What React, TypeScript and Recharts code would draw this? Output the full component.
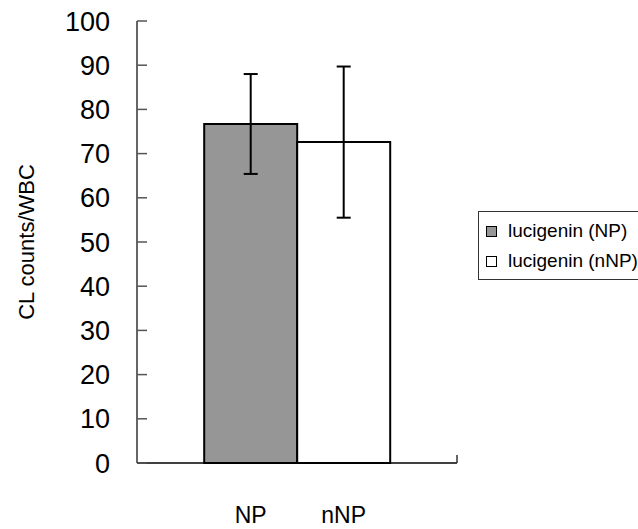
import React from "react";
import {
  BarChart,
  Bar,
  XAxis,
  YAxis,
  ErrorBar,
  Legend,
  LabelList,
} from "recharts";

const groups = ["NP", "nNP"];
const seriesNames = ["lucigenin (NP)", "lucigenin (nNP)"];
const means = [76.7, 72.6];
const errors = [11.3, 17.1];
const fills = ["#969696", "#ffffff"];
const yTicks = [0, 10, 20, 30, 40, 50, 60, 70, 80, 90, 100];

const keys = groups.map((g) => g.toLowerCase());
const row: Record<string, number | string> = { cat: "" };
keys.forEach((k, i) => {
  row[k] = means[i];
  row[k + "Err"] = errors[i];
});
const data = [row];

const FONT = '"Liberation Sans", Arial, sans-serif';

// excel-style tick only at the right end of the category axis, pointing up
const EndTick = (props: any) => {
  const { x, y, payload, width } = props;
  const off = (payload && payload.offset) || width / 2;
  return (
    <line x1={x + off} y1={y} x2={x + off} y2={y - 8} stroke="#333" strokeWidth={1.5} />
  );
};

const groupLabel = (text: string) => (props: any) => {
  const vb = props.viewBox || props;
  const x = props.x ?? vb.x;
  const y = props.y ?? vb.y;
  const w = props.width ?? vb.width;
  const h = props.height ?? vb.height;
  return (
    <text x={x + w / 2} y={y + h + 60} textAnchor="middle" fontSize={23} fill="#000">
      {text}
    </text>
  );
};

const renderLegend = (props: any) => {
  const { payload = [] } = props;
  return (
    <div
      style={{
        border: "1px solid #333",
        background: "#fff",
        padding: "4px 20px 3px 7px",
        fontFamily: FONT,
        fontSize: 19,
        color: "#000",
        whiteSpace: "nowrap",
      }}
    >
      {payload.map((entry: any) => (
        <div key={entry.value} style={{ display: "flex", alignItems: "center", height: 30 }}>
          <span
            style={{
              display: "inline-block",
              width: 9,
              height: 9,
              border: "1.5px solid #000",
              background: entry.color,
              marginRight: 11,
            }}
          />
          <span>{entry.value}</span>
        </div>
      ))}
    </div>
  );
};

export default function App() {
  return (
    <div
      style={{
        position: "absolute",
        left: 0,
        top: 0,
        width: 638,
        height: 529,
        overflow: "hidden",
        background: "#fff",
        fontFamily: FONT,
      }}
    >
      <BarChart
        width={638}
        height={529}
        data={data}
        margin={{ top: 21, right: 181, left: 0, bottom: 36 }}
        barCategoryGap="21%"
        barGap={0}
      >
        <XAxis
          dataKey="cat"
          height={30}
          interval={0}
          tickSize={0}
          tickMargin={0}
          tickLine={false}
          axisLine={{ stroke: "#000", strokeWidth: 1.5 }}
          tick={<EndTick />}
        />
        <YAxis
          type="number"
          domain={[0, 100]}
          ticks={yTicks}
          interval={0}
          width={137}
          tickSize={-10}
          tickMargin={37}
          axisLine={{ stroke: "#333", strokeWidth: 1.5 }}
          tickLine={{ stroke: "#555", strokeWidth: 1.5 }}
          tick={{ fontSize: 27, fill: "#000" }}
          label={{
            value: "CL counts/WBC",
            angle: -90,
            position: "insideLeft",
            offset: 26,
            fontSize: 22,
            fill: "#000",
            style: { textAnchor: "middle" },
          }}
        />
        <Legend
          layout="horizontal"
          align="center"
          verticalAlign="middle"
          content={renderLegend}
          wrapperStyle={{ left: 478, top: 211, width: 220 }}
        />
        {keys.map((k, i) => (
          <Bar
            key={k}
            dataKey={k}
            name={seriesNames[i]}
            fill={fills[i]}
            stroke="#000"
            strokeWidth={2}
            isAnimationActive={false}
          >
            <ErrorBar dataKey={k + "Err"} width={7} stroke="#000" strokeWidth={2} />
            <LabelList dataKey={k} content={groupLabel(groups[i])} />
          </Bar>
        ))}
      </BarChart>
    </div>
  );
}
